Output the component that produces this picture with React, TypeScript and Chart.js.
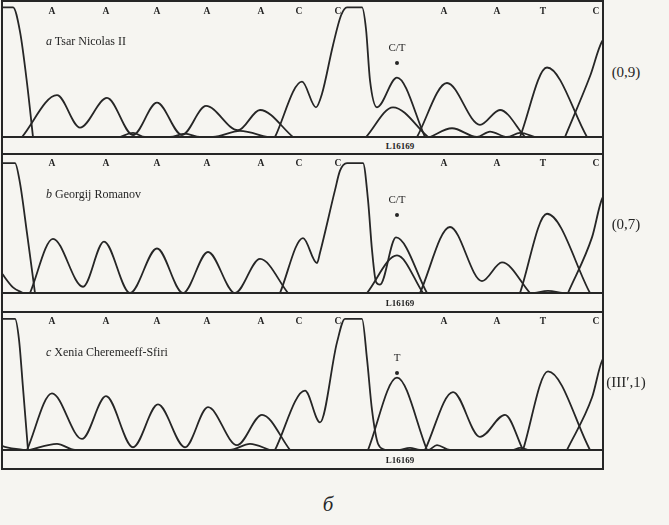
import { useEffect, useRef } from 'react'
import { Chart, registerables, type ChartConfiguration } from 'chart.js'

Chart.register(...registerables)

// трассы хроматограммы: [позиция скана, интенсивность 0..100]
type Pt = [number, number]

const BASES = ['A', 'A', 'A', 'A', 'A', 'C', 'C', 'A', 'A', 'T', 'C']
const BASE_X = [52, 106, 157, 207, 261, 299, 338, 444, 497, 543, 596]

// a — Tsar Nicolas II
const P1_LEAD: Pt[] = [[0, 96], [13, 96], [20, 78], [27, 40], [33, 0]]
const P1_A: Pt[] = [[22, 0], [57, 31], [80, 7], [107, 29], [133, 1.5], [157, 25.5], [182, 1.5], [206, 23], [238, 5], [260, 20], [293, 0]]
const P1_MINOR: Pt[] = [[120, 0], [133, 3], [145, 0], [170, 0], [185, 2.5], [200, 0], [213, 0], [240, 4.5], [267, 0]]
const P1_C: Pt[] = [[275, 0], [302, 41], [316, 22], [322, 32], [333, 68], [341, 90], [347, 96], [362, 96], [366, 80], [370, 42], [377, 22], [397, 44], [425, 0]]
const P1_T: Pt[] = [[366, 0], [393, 22], [428, 0]]
const P1_A2: Pt[] = [[417, 0], [447, 40], [480, 9], [500, 20], [525, 0]]
const P1_MINOR2: Pt[] = [[430, 0], [452, 6.5], [477, 0], [490, 4], [507, 0], [520, 3], [535, 0]]
const P1_T2: Pt[] = [[520, 0], [547, 51.5], [587, 0]]
const P1_CEND: Pt[] = [[565, 0], [590, 45], [603, 72], [612, 75]]

// b — Georgij Romanov
const P2_LEAD: Pt[] = [[0, 93.5], [15, 93.5], [20, 79], [27, 43], [35, 0]]
const P2_TAIL: Pt[] = [[0, 16], [2, 14], [13, 4], [23, 0]]
const P2_A: Pt[] = [[30, 0], [53, 39], [83, 4.5], [104, 37], [130, 0], [157, 32], [183, 0], [208, 29.5], [235, 0], [260, 24.5], [288, 0]]
const P2_C: Pt[] = [[280, 0], [303, 39.5], [317, 21.5], [320, 29], [335, 74], [340, 88], [347, 93.5], [363, 93.5], [368, 67], [372, 31], [376, 8], [380, 6], [396, 40], [427, 0]]
const P2_T: Pt[] = [[367, 0], [397, 27], [423, 0]]
const P2_A2: Pt[] = [[420, 0], [450, 47.5], [482, 8.6], [502, 22], [530, 0]]
const P2_MINOR: Pt[] = [[535, 0], [548, 1.5], [562, 0]]
const P2_T2: Pt[] = [[520, 0], [547, 57], [590, 0]]
const P2_CEND: Pt[] = [[568, 0], [592, 40], [603, 69], [612, 72]]

// c — Xenia Cheremeeff-Sfiri
const P3_LEAD: Pt[] = [[0, 95], [15, 95], [19, 80], [23, 45], [28, 0]]
const P3_TAIL: Pt[] = [[0, 4], [2, 3], [23, 0]]
const P3_MINOR: Pt[] = [[30, 0], [57, 4.5], [75, 0], [230, 0], [250, 4.5], [270, 0]]
const P3_A: Pt[] = [[27, 0], [52, 41], [82, 8], [106, 39], [133, 2], [158, 33], [185, 2], [208, 31], [237, 3.5], [262, 25.5], [290, 0]]
const P3_C: Pt[] = [[275, 0], [305, 43], [320, 20], [337, 78], [345, 95], [362, 95], [367, 66], [372, 29], [378, 4.5], [385, 0]]
const P3_T: Pt[] = [[368, 0], [397, 52.5], [427, 0]]
const P3_MINOR2: Pt[] = [[400, 0], [410, 1.5], [420, 0], [428, 0], [437, 3.5], [450, 0], [512, 0], [520, 1.5], [528, 0]]
const P3_A2: Pt[] = [[425, 0], [453, 42], [480, 9.5], [505, 25.5], [523, 0]]
const P3_T2: Pt[] = [[523, 0], [548, 57], [590, 0]]
const P3_CEND: Pt[] = [[567, 0], [592, 38], [603, 66], [612, 69]]

const INK = '#262626'
const PAPER = '#f6f5f1'
const SERIF = '"Liberation Serif", "DejaVu Serif", serif'
const X0 = 2
const X1 = 603

const PANELS = [
  { top: 2, base: 137, bottom: 154, name: 'Tsar Nicolas II', tag: 'a', call: 'C/T', ratio: '(0,9)', nameY: 42,
    traces: [P1_LEAD, P1_A, P1_MINOR, P1_C, P1_T, P1_A2, P1_MINOR2, P1_T2, P1_CEND] },
  { top: 154, base: 293, bottom: 312, name: 'Georgij Romanov', tag: 'b', call: 'C/T', ratio: '(0,7)', nameY: 195,
    traces: [P2_LEAD, P2_TAIL, P2_A, P2_C, P2_T, P2_A2, P2_MINOR, P2_T2, P2_CEND] },
  { top: 312, base: 450, bottom: 469, name: 'Xenia Cheremeeff-Sfiri', tag: 'c', call: 'T', ratio: '(III′,1)', nameY: 353,
    traces: [P3_LEAD, P3_TAIL, P3_MINOR, P3_A, P3_C, P3_T, P3_MINOR2, P3_A2, P3_T2, P3_CEND] },
]

function Trace({ top, height, traces }: { top: number; height: number; traces: Pt[][] }) {
  const ref = useRef<HTMLCanvasElement>(null)

  useEffect(() => {
    const canvas = ref.current
    if (!canvas) return
    const config = {
      type: 'line',
      data: {
        datasets: traces.map((t) => ({
          data: t.map(([x, y]) => ({ x, y })),
          borderColor: INK,
          borderWidth: 1.8,
          pointRadius: 0,
          fill: false,
          cubicInterpolationMode: 'monotone',
        })),
      },
      options: {
        animation: false,
        responsive: false,
        events: [],
        layout: { padding: 0 },
        plugins: { legend: { display: false }, tooltip: { enabled: false } },
        scales: {
          x: { type: 'linear', min: X0, max: X1, display: false },
          y: { min: 0, max: 100, display: false },
        },
      },
    } as unknown as ChartConfiguration
    const chart = new Chart(canvas, config)
    return () => chart.destroy()
  }, [traces, height])

  return (
    <canvas
      ref={ref}
      width={X1 - X0}
      height={height}
      style={{ position: 'absolute', left: X0, top, width: X1 - X0, height }}
    />
  )
}

function Label({ x, y, children, size = 10, bold = false, italic = false }: {
  x: number; y: number; children: React.ReactNode; size?: number; bold?: boolean; italic?: boolean
}) {
  return (
    <div
      style={{
        position: 'absolute', left: x, top: y, transform: 'translate(-50%, -50%)', whiteSpace: 'nowrap',
        fontSize: size, fontWeight: bold ? 700 : 400, fontStyle: italic ? 'italic' : 'normal', lineHeight: 1,
      }}
    >
      {children}
    </div>
  )
}

const hLine = (y: number, w = 2) => (
  <div key={`h${y}`} style={{ position: 'absolute', left: X0 - 1, top: y - w / 2, width: X1 - X0 + 2, height: w, background: INK }} />
)

export default function App() {
  return (
    <div style={{ position: 'absolute', left: 0, top: 0, width: 669, height: 525, background: PAPER, overflow: 'hidden', fontFamily: SERIF, color: INK }}>
      {PANELS.map((p) => (
        <div key={p.name}>
          <Trace top={p.top} height={p.base - p.top} traces={p.traces} />
          {BASES.map((b, i) => (
            <Label key={i} x={BASE_X[i]} y={p.top + 10} size={9.5} bold>{b}</Label>
          ))}
          <div style={{ position: 'absolute', left: 46, top: p.nameY - 7, fontSize: 12, whiteSpace: 'nowrap', lineHeight: 1 }}>
            <i>{p.tag}</i> {p.name}
          </div>
          <Label x={397} y={p.top + 45} size={11}>{p.call}</Label>
          <div style={{ position: 'absolute', left: 395, top: p.top + 59, width: 4, height: 4, borderRadius: 2, background: INK }} />
          <Label x={400} y={(p.base + p.bottom) / 2} size={9} bold>L16169</Label>
          <Label x={626} y={p.top + 70} size={15}>{p.ratio}</Label>
          {hLine(p.base, 1.6)}
          {hLine(p.bottom, 2)}
        </div>
      ))}
      {hLine(1, 2)}
      <div style={{ position: 'absolute', left: X0 - 1, top: 0, width: 2, height: 470, background: INK }} />
      <div style={{ position: 'absolute', left: X1 - 1, top: 0, width: 2, height: 470, background: INK }} />
      <Label x={328} y={504} size={21} italic>б</Label>
    </div>
  )
}
